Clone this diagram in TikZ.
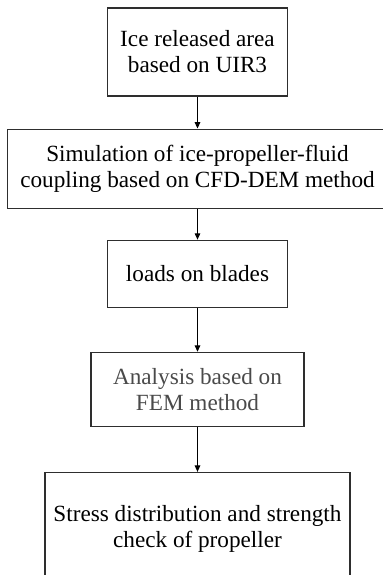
\documentclass[tikz,border=0pt]{standalone}
\usepackage{fontspec}
\setmainfont{Liberation Serif}
\usetikzlibrary{positioning,arrows.meta}
\definecolor{edge}{HTML}{2E2E2E}
\definecolor{greytext}{HTML}{4A4A4A}

\begin{document}
\begin{tikzpicture}[
      box/.style={draw=edge, line width=0.55pt, align=center, inner sep=0pt,
                  font=\fontsize{11.6}{13}\selectfont},
      arr/.style={-{Triangle[length=3.2pt, width=2.8pt]}, line width=0.5pt, black}]
    \useasboundingbox (0,0) rectangle (191pt,-287.5pt);
    \node[box, minimum width=90pt, minimum height=44pt] (ice) at (98.75pt,-26pt) {Ice released area\\based on UIR3};
    \node[box, minimum width=190pt, minimum height=39.5pt, below=16pt of ice] (sim) {Simulation of ice-propeller-fluid\\coupling based on CFD-DEM method};
    \node[box, minimum width=90pt, minimum height=33.5pt, below=15.5pt of sim] (load) {loads on blades};
    \node[box, minimum width=106.5pt, minimum height=37pt, below=22pt of load, text=greytext] (fem) {Analysis based on\\FEM method};
    \node[box, minimum width=152.5pt, minimum height=57pt, below=22.5pt of fem] (res) {Stress distribution and strength\\check of propeller};
    \draw[arr] (ice) -- (sim); \draw[arr] (sim) -- (load); \draw[arr] (load) -- (fem); \draw[arr] (fem) -- (res);
  \end{tikzpicture}
\end{document}
